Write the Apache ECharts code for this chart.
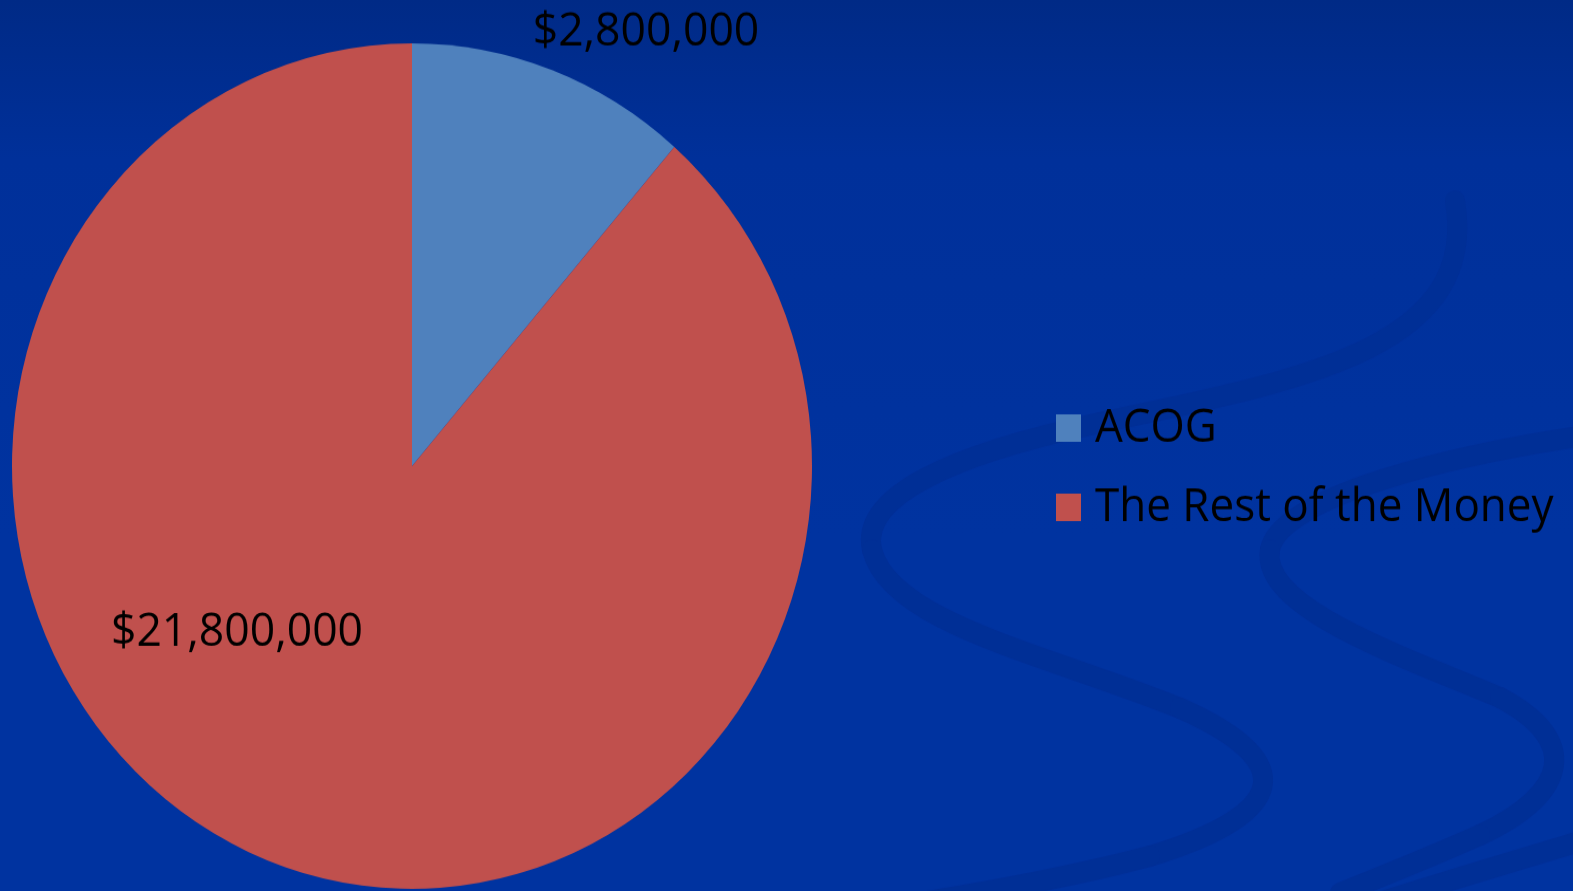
<!DOCTYPE html>
<html>
<head>
<meta charset="utf-8">
<script src="https://cdn.jsdelivr.net/npm/echarts@6/dist/echarts.min.js"></script>
<style>
  html, body { margin: 0; padding: 0; width: 1573px; height: 891px; overflow: hidden;
    background: linear-gradient(to bottom, #002a86 0%, #00309a 18%, #0033a0 60%, #0033a0 100%); }
  #chart { position: absolute; left: 0; top: 0; width: 1573px; height: 843px;
    transform: scaleY(1.05694); transform-origin: 0 0; }
</style>
</head>
<body>
<div id="chart"></div>
<script>
// ---- data ----
const categories = ['ACOG', 'The Rest of the Money'];
const values = [2800000, 21800000];
const valueLabels = ['$2,800,000', '$21,800,000'];
const colors = ['#4F81BD', '#C0504D'];

// ---- layout (not data) ----
const CX = 412, CY = 441, R = 400;
// label anchor offsets in units of radius
const labelOffsets = [[0.585, -1.0255], [-0.4375, 0.394]];

const chart = echarts.init(document.getElementById('chart'), null, { renderer: 'canvas' });

// decorative background swirls (cubic segments: x1,y1,cp1x,cp1y,cp2x,cp2y,x2,y2)
const swirlSegments = [
  [1455, 190, 1480, 330, 1300, 360, 1100, 400],
  [1100, 400, 950, 430, 860, 470, 872, 520],
  [872, 520, 890, 590, 1050, 620, 1180, 670],
  [1180, 670, 1300, 720, 1290, 770, 1150, 810],
  [1150, 810, 1050, 835, 950, 850, 880, 860],
  [1600, 410, 1450, 430, 1280, 470, 1270, 520],
  [1270, 520, 1260, 575, 1400, 620, 1500, 660],
  [1500, 660, 1580, 700, 1570, 750, 1480, 790],
  [1480, 790, 1420, 815, 1380, 830, 1340, 845],
  [1600, 790, 1540, 808, 1440, 835, 1360, 860]
];
const swirlGraphics = swirlSegments.map(function (s) {
  return {
    type: 'bezierCurve', silent: true, z: -10,
    shape: { x1: s[0], y1: s[1], cpx1: s[2], cpy1: s[3], cpx2: s[4], cpy2: s[5], x2: s[6], y2: s[7] },
    style: { stroke: '#002f96', fill: null, lineWidth: 20, lineCap: 'round' }
  };
});

const option = {
  backgroundColor: 'transparent',
  animation: false,
  graphic: swirlGraphics,
  legend: {
    orient: 'vertical',
    left: 1051,
    top: 375,
    itemWidth: 25,
    itemHeight: 26,
    itemGap: 25,
    icon: 'rect',
    selectedMode: false,
    data: categories,
    textStyle: {
      color: '#000000',
      fontFamily: 'Open Sans',
      fontSize: 44,
      lineHeight: 50,
      padding: [0, 0, 0, 9]
    }
  },
  series: [{
    type: 'pie',
    center: [CX, CY],
    radius: [0, R],
    startAngle: 90,
    clockwise: true,
    avoidLabelOverlap: false,
    emphasis: { disabled: true },
    itemStyle: { borderWidth: 0 },
    label: {
      show: true,
      position: 'inside',
      color: '#000000',
      fontFamily: 'Open Sans',
      fontSize: 44.5,
      formatter: function (p) { return valueLabels[p.dataIndex]; }
    },
    labelLine: { show: false },
    labelLayout: function (params) {
      const o = labelOffsets[params.dataIndex];
      return { x: CX + o[0] * R, y: CY + o[1] * R, align: 'center', verticalAlign: 'middle' };
    },
    data: categories.map(function (c, i) {
      return { name: c, value: values[i], itemStyle: { color: colors[i] } };
    })
  }]
};
chart.setOption(option);
</script>
</body>
</html>
